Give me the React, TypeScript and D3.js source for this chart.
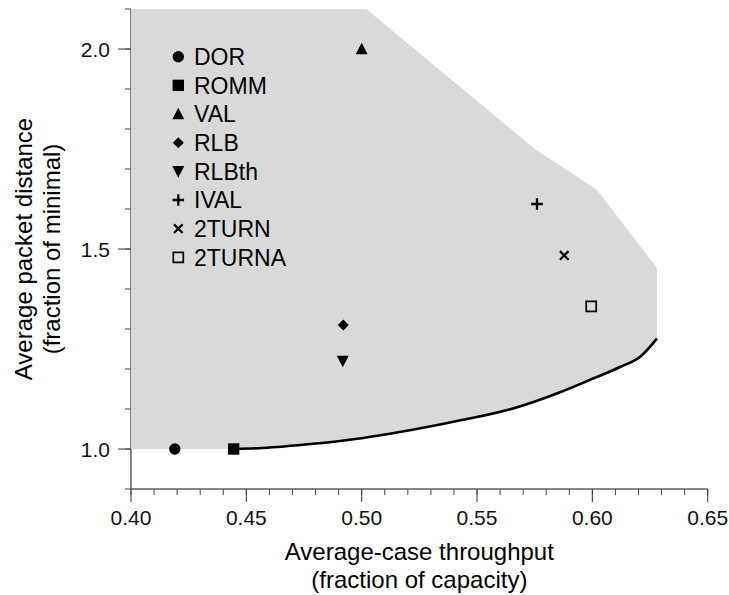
import React from "react";
import * as d3 from "d3";

// ---- data ----
const algorithms = ["DOR", "ROMM", "VAL", "RLB", "RLBth", "IVAL", "2TURN", "2TURNA"];
const throughput = [0.419, 0.4445, 0.5, 0.492, 0.4918, 0.576, 0.5878, 0.5995];
const pathLength = [1.0, 1.0, 2.0, 1.31, 1.22, 1.6125, 1.484, 1.3565];
const markerKinds = ["circle", "square", "triangleUp", "diamond", "triangleDown", "plus", "cross", "openSquare"];

// lower bound curve (optimal tradeoff)
const curveX = [0.4445, 0.457, 0.479, 0.5, 0.522, 0.544, 0.566, 0.586, 0.599, 0.612, 0.621, 0.628];
const curveY = [1.0, 1.0025, 1.013, 1.027, 1.048, 1.073, 1.102, 1.142, 1.173, 1.205, 1.232, 1.276];

// upper frontier of the achievable (gray) region
const frontierX = [0.4, 0.502, 0.575, 0.602, 0.628, 0.628];
const frontierY = [2.1, 2.1, 1.75, 1.648, 1.4525, 1.276];

const xMajor = [0.4, 0.45, 0.5, 0.55, 0.6, 0.65];
const xMajorLabels = ["0.40", "0.45", "0.50", "0.55", "0.60", "0.65"];
const yMajor = [1.0, 1.5, 2.0];
const yMajorLabels = ["1.0", "1.5", "2.0"];

const W = 729;
const H = 595;
const FONT = "'Liberation Sans', Arial, Helvetica, sans-serif";

function markerPath(kind: string): { d: string; fill: string; stroke: string; sw: number } {
  switch (kind) {
    case "circle": {
      const p = d3.path();
      p.arc(0, 0, 5.7, 0, Math.PI * 2);
      return { d: p.toString(), fill: "#000", stroke: "none", sw: 0 };
    }
    case "square":
      return { d: "M-5.7,-5.7H5.7V5.7H-5.7Z", fill: "#000", stroke: "none", sw: 0 };
    case "triangleUp":
      return { d: "M0,-6.3L6,5.3H-6Z", fill: "#000", stroke: "none", sw: 0 };
    case "triangleDown":
      return { d: "M0,6.3L6,-5.3H-6Z", fill: "#000", stroke: "none", sw: 0 };
    case "diamond":
      return { d: "M0,-5.5L5.5,0L0,5.5L-5.5,0Z", fill: "#000", stroke: "none", sw: 0 };
    case "plus":
      return { d: "M-5.8,0H5.8M0,-5.8V5.8", fill: "none", stroke: "#000", sw: 2.3 };
    case "cross":
      return { d: "M-4.3,-4.3L4.3,4.3M-4.3,4.3L4.3,-4.3", fill: "none", stroke: "#000", sw: 2.2 };
    case "openSquare":
      return { d: "M-5,-5H5V5H-5Z", fill: "none", stroke: "#000", sw: 1.7 };
  }
  return { d: "", fill: "none", stroke: "none", sw: 0 };
}

export default function App() {
  const x = d3.scaleLinear().domain([0.4, 0.65]).range([131, 707.7]);
  const y = d3.scaleLinear().domain([0.9, 2.1]).range([489, 9]);

  const xMinor = d3.range(40, 66).map((v) => v / 100);
  const yMinor = d3.range(9, 22).map((v) => v / 10);

  const curvePts: [number, number][] = curveX.map((v, i) => [x(v), y(curveY[i])]);
  const curveLine = d3.line().curve(d3.curveMonotoneX)(curvePts) || "";

  const polyPts: [number, number][] = [
    ...frontierX.map((v, i) => [x(v), y(frontierY[i])] as [number, number]),
    ...curvePts.slice().reverse(),
    [x(0.4), y(1.0)],
  ];
  const polyPath = d3.line()(polyPts) + "Z";

  const x0 = x(0.4);
  const yb = y(0.9);

  return (
    <svg
      width={W}
      height={H}
      style={{ position: "absolute", left: 0, top: 0, background: "#fff" }}
      fontFamily={FONT}
    >
      {/* axes */}
      <line x1={x0} x2={x(0.65)} y1={yb} y2={yb} stroke="#111" strokeWidth={1.2} />
      <line x1={x0} x2={x0} y1={y(2.1)} y2={yb} stroke="#333" strokeWidth={1.2} />
      {xMinor.map((v) => (
        <line key={"xm" + v} x1={x(v)} x2={x(v)} y1={yb} y2={yb + 6} stroke="#444" strokeWidth={1} />
      ))}
      {xMajor.map((v) => (
        <line key={"xM" + v} x1={x(v)} x2={x(v)} y1={yb} y2={yb + 13} stroke="#444" strokeWidth={1.1} />
      ))}
      {xMajor.map((v, i) => (
        <text key={"xl" + v} x={x(v)} y={524.5} fontSize={21} textAnchor="middle" fill="#111">
          {xMajorLabels[i]}
        </text>
      ))}
      {yMinor.map((v) => (
        <line key={"ym" + v} x1={x0 - 6} x2={x0} y1={y(v)} y2={y(v)} stroke="#444" strokeWidth={1} />
      ))}
      {yMajor.map((v) => (
        <line key={"yM" + v} x1={x0 - 13} x2={x0} y1={y(v)} y2={y(v)} stroke="#444" strokeWidth={1.1} />
      ))}
      {yMajor.map((v, i) => (
        <text key={"yl" + v} x={110} y={y(v) + 7.5} fontSize={21} textAnchor="end" fill="#111">
          {yMajorLabels[i]}
        </text>
      ))}

      {/* achievable region */}
      <path d={polyPath} fill="#d9d9d9" stroke="none" />
      <path d={curveLine} fill="none" stroke="#000" strokeWidth={2.6} />

      {/* algorithm points */}
      {algorithms.map((a, i) => {
        const m = markerPath(markerKinds[i]);
        return (
          <path
            key={"pt" + a}
            d={m.d}
            transform={`translate(${x(throughput[i])},${y(pathLength[i])})`}
            fill={m.fill}
            stroke={m.stroke}
            strokeWidth={m.sw}
          />
        );
      })}

      {/* legend */}
      {algorithms.map((a, i) => {
        const m = markerPath(markerKinds[i]);
        const ly = 56.7 + i * 28.66;
        return (
          <g key={"lg" + a}>
            <path d={m.d} transform={`translate(178.3,${ly})`} fill={m.fill} stroke={m.stroke} strokeWidth={m.sw} />
            <text x={194} y={ly + 8.2} fontSize={23} fill="#000">
              {a}
            </text>
          </g>
        );
      })}

      {/* axis titles */}
      <text x={(x(0.4) + x(0.65)) / 2} y={559.5} fontSize={24} textAnchor="middle" fill="#000">
        Average-case throughput
      </text>
      <text x={(x(0.4) + x(0.65)) / 2} y={587.5} fontSize={24} textAnchor="middle" fill="#000">
        (fraction of capacity)
      </text>
      <text transform={`translate(31.7,${(y(0.9) + y(2.1)) / 2}) rotate(-90)`} fontSize={24} textAnchor="middle" fill="#000">
        Average packet distance
      </text>
      <text transform={`translate(59.7,${(y(0.9) + y(2.1)) / 2}) rotate(-90)`} fontSize={24} textAnchor="middle" fill="#000">
        (fraction of minimal)
      </text>
    </svg>
  );
}
